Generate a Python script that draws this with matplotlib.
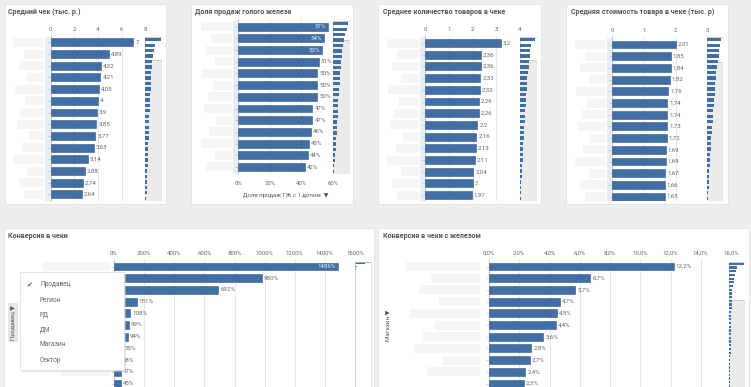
import matplotlib
matplotlib.use("Agg")
import matplotlib.pyplot as plt
from matplotlib.patches import Rectangle

W, H = 751, 387
BLUE = '#416ea5'
EDGE = '#33598a'
GRID = '#e3e3e3'
TXT = '#666666'
plt.rcParams['font.family'] = ['Roboto', 'DejaVu Sans']

# --- данные (сверху вниз, как в отчёте) ---
avg_check = [7, 4.89, 4.22, 4.21, 4.05, 4, 3.9, 3.85, 3.77, 3.63, 3.14, 2.88, 2.74, 2.64]
avg_check_overview = [7, 4.3, 3.9, 3.4, 2.95, 2.8, 2.7, 2.55, 2.45, 2.35, 2.2, 2.1, 2.0, 1.9, 1.8,
                      1.7, 1.6, 1.5, 1.45, 1.35, 1.25, 1.15, 1.05, 0.98, 0.9, 0.82, 0.75, 0.7, 0.6, 0.5]

hw_share = [57, 54, 53, 51, 50, 50, 50, 47, 47, 46, 45, 44, 42]
hw_share_overview = [57, 52, 46, 41, 37, 35, 33, 31, 29.5, 28, 26.5, 25, 23.5, 22, 20.5, 19.5,
                     18.5, 17.5, 16, 15, 14, 12.5, 11, 10, 8.5, 7, 5.5, 4]

avg_qty = [3.2, 2.36, 2.36, 2.33, 2.32, 2.26, 2.26, 2.2, 2.16, 2.13, 2.11, 2.04, 2, 1.97]
avg_qty_overview = [3.2, 2.36, 2.28, 2.15, 2.0, 1.85, 1.72, 1.6, 1.5, 1.42, 1.35, 1.28, 1.2, 1.13, 1.06,
                    0.99, 0.92, 0.86, 0.8, 0.74, 0.68, 0.62, 0.56, 0.5, 0.44, 0.38, 0.32, 0.26, 0.2, 0.15]

avg_price = [2.01, 1.85, 1.84, 1.82, 1.76, 1.74, 1.74, 1.73, 1.72, 1.69, 1.69, 1.67, 1.66, 1.65]
avg_price_overview = [2.01, 1.84, 1.74, 1.68, 1.55, 1.45, 1.37, 1.3, 1.22, 1.15, 1.08, 1.02, 0.96, 0.9, 0.84,
                      0.78, 0.72, 0.66, 0.61, 0.56, 0.51, 0.46, 0.41, 0.36, 0.31, 0.27, 0.22, 0.18, 0.14, 0.1]

conv = [1486, 980, 692, 151, 108, 99, 94, 55, 48, 47, 45]

conv_hw = [12.2, 6.7, 5.7, 4.7, 4.5, 4.4, 3.6, 2.8, 2.7, 2.4, 2.3]
conv_hw_tail = [2.2, 2.1, 2.0, 2.0, 1.9, 1.8, 1.8, 1.7, 1.6, 1.6, 1.5, 1.4, 1.4, 1.3, 1.2, 1.2,
                1.1, 1.0, 1.0, 0.9, 0.8, 0.8, 0.7]

menu_items = ['Продавец', 'Регион', 'РД', 'ДМ', 'Магазин', 'Сектор']

blur_w = [0.9, 0.6, 0.75, 0.5, 0.85, 0.55, 0.7, 0.8, 0.45, 0.65, 0.9, 0.5, 0.75, 0.6]


def px_axes(x0, y0, x1, y1):
    return fig.add_axes([x0 / W, 1 - y1 / H, (x1 - x0) / W, (y1 - y0) / H])


def fmt(v, pct=False, dec=None):
    if dec is not None:
        s = f"{v:.{dec}f}"
    else:
        s = f"{v:g}"
    s = s.replace('.', ',')
    return s + ('%' if pct else '')


def bar_panel(vals, x0, x1, top, bot, row0, pitch, xmax, ticks, tick_lbls,
              pct=False, dec=None, bottom_ticks=False):
    ax = px_axes(x0, top, x1, bot)
    n = len(vals)
    ax.barh(range(n), vals, height=0.68, color=BLUE, edgecolor=EDGE, linewidth=0.4, zorder=3)
    ax.set_xlim(0, xmax)
    ax.set_ylim((bot - row0) / pitch, (top - row0) / pitch)
    ax.set_xticks(ticks)
    ax.set_xticklabels(tick_lbls)
    ax.set_yticks(range(n))
    ax.set_yticklabels([])
    ax.tick_params(axis='y', length=2, color='#bbbbbb', width=0.5)
    if bottom_ticks:
        ax.tick_params(axis='x', length=0, pad=5, labelsize=4.3, labelcolor=TXT)
    else:
        ax.xaxis.tick_top()
        ax.tick_params(axis='x', length=0, pad=2.5, labelsize=4.3, labelcolor=TXT)
    ax.grid(axis='x', color=GRID, lw=0.6, zorder=0)
    for s in ['top', 'right', 'bottom']:
        ax.spines[s].set_visible(False)
    ax.spines['left'].set_color('#c8c8c8')
    ax.spines['left'].set_linewidth(0.6)
    ax.set_facecolor('none')
    px_per = (x1 - x0) / xmax
    for i, v in enumerate(vals):
        lbl = fmt(v, pct, dec)
        end = v * px_per
        # подпись внутрь столбца, если снаружи не помещается
        if end + 2 + 3.3 * len(lbl) > (x1 - x0):
            ax.text(v - 2 / px_per, i, lbl, ha='right', va='center', fontsize=4.4,
                    color='#e8eef6', zorder=4, clip_on=True)
        else:
            ax.text(v + 2 / px_per, i, lbl, ha='left', va='center', fontsize=4.4,
                    color=TXT, zorder=4, clip_on=True)
    return ax


def overview(vals, x0, x1, top, bot, xmax, view_bot, pitch=None, white=False):
    ax = px_axes(x0, top, x1, bot)
    ax.set_facecolor('white' if white else '#ebebeb')
    frac = (view_bot - top) / (bot - top)
    ax.add_patch(Rectangle((0, 1 - frac), 1, frac, transform=ax.transAxes,
                           fc='white', ec='#c8c8c8', lw=0.6, zorder=1))
    n = len(vals)
    ax.barh(range(n), vals, height=0.6, color=BLUE, lw=0, zorder=2)
    if pitch is None:
        ax.set_ylim(n - 0.5, -0.5)
    else:
        ax.set_ylim((bot - top) / pitch - 0.5, -0.5)
    ax.set_xlim(0, xmax)
    ax.set_xticks([])
    ax.set_yticks([])
    for s in ax.spines.values():
        s.set_color('#d0d0d0')
        s.set_linewidth(0.5)
        s.set_visible(white)
    return ax


fig = plt.figure(figsize=(W / 100, H / 100), dpi=100)
fig.patch.set_facecolor('#eeeeee')

# фон и карточки
bg = fig.add_axes([0, 0, 1, 1])
bg.set_xlim(0, W)
bg.set_ylim(H, 0)
bg.axis('off')
cards = [(5, 4, 166, 204), (191, 4, 353, 204), (378, 4, 541, 204), (566, 4, 728, 204),
         (4, 228, 374, 390), (378, 228, 749, 390)]
for (a, b, c, d) in cards:
    bg.add_patch(Rectangle((a, b), c - a, d - b, fc='white', ec='#e2e2e2', lw=0.6))


def blur_labels(lx0, lx1, row0, pitch, nrows, bottom):
    # размытые подписи категорий
    for i in range(nrows):
        y = row0 + i * pitch
        if y + 4 > bottom:
            break
        w = (lx1 - lx0) * blur_w[i % len(blur_w)]
        bg.add_patch(Rectangle((lx1 - w, y - 4.5), w, 9, fc='#f5f5f5', ec='none'))


blur_labels(10, 44, 42.3, 11.7, 14, 203)
blur_labels(197, 232, 26.6, 11.7, 13, 174)
blur_labels(383, 419, 43, 11.7, 14, 203)
blur_labels(571, 606, 44.5, 11.7, 14, 203)
blur_labels(35, 110, 266.5, 11.7, 11, 387)
blur_labels(398, 480, 266.5, 11.7, 11, 387)

# полосы выбора слева от оси
for (a, b, c, d) in [(45, 37, 50.5, 201), (233, 21, 238, 174), (420, 37, 425, 201), (607, 38, 612, 201)]:
    bg.add_patch(Rectangle((a, b), c - a, d - b, fc='#e6edf5', ec='none'))

# панели
bar_panel(avg_check, 50.7, 145.3, 35, 201, 42.3, 11.7, 8, [0, 2, 4, 6, 8], ['0', '2', '4', '6', '8'])
overview(avg_check_overview, 145.3, 162, 37, 201, 7.3, 60)

bar_panel(hw_share, 238.3, 333, 19, 174, 26.6, 11.7, 60, [0, 20, 40, 60],
          ['0%', '20%', '40%', '60%'], pct=True, bottom_ticks=True)
overview(hw_share_overview, 333, 350, 21, 174, 64, 40)

bar_panel(avg_qty, 425, 520, 35, 201, 43, 11.7, 4, [0, 1, 2, 3, 4], ['0', '1', '2', '3', '4'])
overview(avg_qty_overview, 520, 537, 37, 201, 3.7, 60)

bar_panel(avg_price, 612.3, 707.3, 36, 201, 44.5, 11.7, 3, [0, 1, 2, 3], ['0', '1', '2', '3'])
overview(avg_price_overview, 707.3, 723, 37, 201, 2.35, 62)

t5 = list(range(0, 1601, 200))
bar_panel(conv, 114, 355, 259, 387, 266.5, 11.7, 1600, t5, [f'{t}%' for t in t5], pct=True)
overview(conv, 355, 371, 262, 387, 1550, 387, pitch=1.2, white=True)

t6 = list(range(0, 17, 2))
bar_panel(conv_hw, 489, 731, 259, 387, 266.5, 11.7, 16, t6, [fmt(t, True, 1) for t in t6],
          pct=True, dec=1)
overview(conv_hw + conv_hw_tail, 729, 745, 262, 387, 13.2, 300, pitch=3.7)

# верхний слой: заголовки, меню, подписи
ov = fig.add_axes([0, 0, 1, 1])
ov.set_xlim(0, W)
ov.set_ylim(H, 0)
ov.axis('off')

titles = [(8, 12, 'Средний чек (тыс. р.)'), (195, 12, 'Доля продаж голого железа'),
          (383, 12, 'Среднее количество товаров в чеке'),
          (571, 12, 'Средняя стоимость товара в чеке (тыс. р)'),
          (8, 235.5, 'Конверсия в чеки'), (383, 235.5, 'Конверсия в чеки с железом')]
for x, y, t in titles:
    ov.text(x, y, t, fontsize=5.1, fontweight='bold', color='#555555', va='center', ha='left')

ov.text(285.5, 195.5, 'Доля продаж ГЖ с 1 допом  ▼', fontsize=4.3, color='#555555',
        ha='center', va='center')

# вертикальные ярлыки измерений
ov.add_patch(Rectangle((8, 303), 10, 39, fc='#e6e6e6', ec='none'))
ov.text(13, 322.5, 'Продавец ▼', rotation=90, fontsize=4.4, color='#555555',
        ha='center', va='center')
ov.text(388, 325, 'Магазин ▼', rotation=90, fontsize=4.4, color='#555555',
        ha='center', va='center')

# выпадающее меню
ov.add_patch(Rectangle((21.5, 273.5), 104, 98, fc='#cfcfcf', ec='none', alpha=0.5))
ov.add_patch(Rectangle((20, 272), 104, 98, fc='white', ec='#dddddd', lw=0.5))
for i, item in enumerate(menu_items):
    ov.text(40, 285 + 15 * i, item, fontsize=4.7, color=TXT, va='center', ha='left')
ov.text(29, 285, '✔', fontsize=5, color='#555555', va='center', ha='center',
        family=['DejaVu Sans'])

fig.savefig('out.png', dpi=100, facecolor=fig.get_facecolor())
